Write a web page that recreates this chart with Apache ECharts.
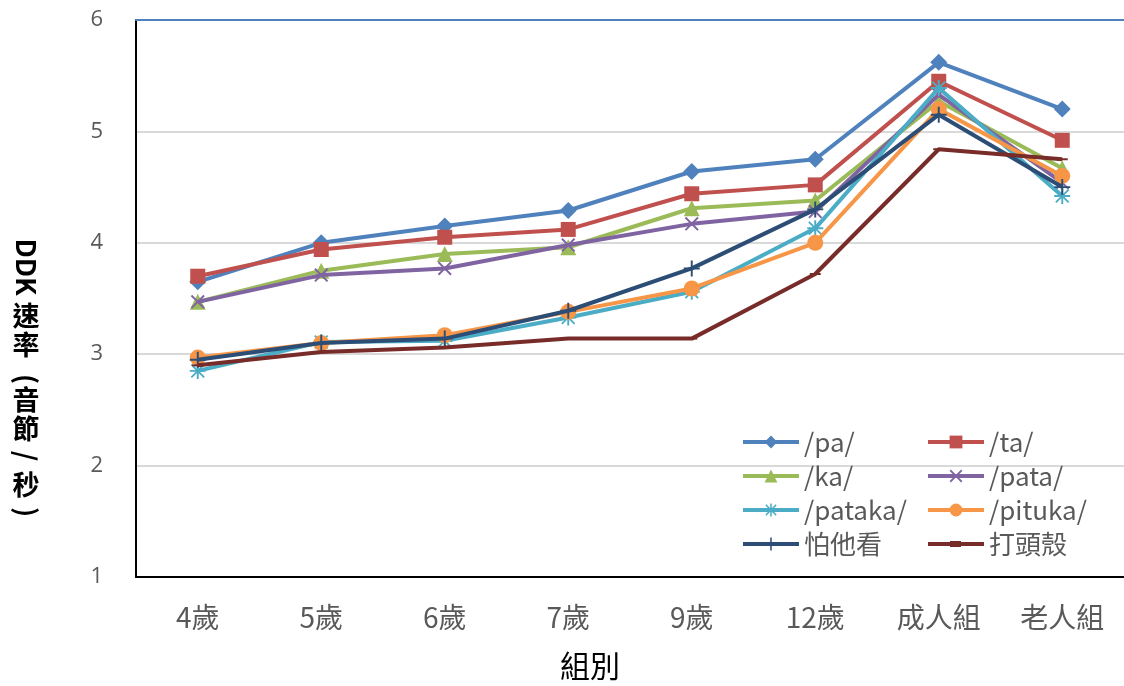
<!DOCTYPE html>
<html>
<head>
<meta charset="utf-8">
<script src="https://cdn.jsdelivr.net/npm/echarts@6/dist/echarts.min.js"></script>
<style>html,body{margin:0;padding:0;background:#fff}#c{width:1124px;height:686px}</style>
</head>
<body>
<div id="c"></div>
<script>
const categories = ['4歲','5歲','6歲','7歲','9歲','12歲','成人組','老人組'];
const seriesNames = ['/pa/','/ta/','/ka/','/pata/','/pataka/','/pituka/','怕他看','打頭殼'];
const pa      = [3.65, 4.00, 4.15, 4.29, 4.64, 4.75, 5.62, 5.20];
const ta      = [3.70, 3.94, 4.05, 4.12, 4.44, 4.52, 5.45, 4.92];
const ka      = [3.47, 3.75, 3.90, 3.96, 4.31, 4.38, 5.27, 4.67];
const pata    = [3.47, 3.71, 3.77, 3.98, 4.17, 4.28, 5.33, 4.54];
const pataka  = [2.85, 3.11, 3.12, 3.33, 3.56, 4.13, 5.39, 4.42];
const pituka  = [2.97, 3.10, 3.17, 3.38, 3.59, 4.00, 5.20, 4.60];
const patakan = [2.95, 3.10, 3.14, 3.39, 3.77, 4.30, 5.15, 4.50];
const datouke = [2.90, 3.02, 3.06, 3.14, 3.14, 3.72, 4.84, 4.75];
const yTicks = [1, 2, 3, 4, 5, 6];

const colors = ['#4F81BD','#C0504D','#9BBB59','#8064A2','#4BACC6','#F79646','#2C4D75','#772C2A'];
const X_PATH = 'path://M0,1 L1,0 L5,4 L9,0 L10,1 L6,5 L10,9 L9,10 L5,6 L1,10 L0,9 L4,5 Z';
const PLUS_PATH = 'path://M4.4,0 H5.6 V4.4 H10 V5.6 H5.6 V10 H4.4 V5.6 H0 V4.4 H4.4 Z';
const STAR_PATH = 'path://M4.4,0 H5.6 V4.4 H10 V5.6 H5.6 V10 H4.4 V5.6 H0 V4.4 H4.4 Z M0.6,1.4 L1.4,0.6 L5,4.2 L8.6,0.6 L9.4,1.4 L5.8,5 L9.4,8.6 L8.6,9.4 L5,5.8 L1.4,9.4 L0.6,8.6 L4.2,5 Z';
const DASH_PATH = 'path://M0,0 H10 V4 H0 Z';
const DASH_LEGEND = 'path://M0,1 H56 V5 H0 Z M22,0 H33 V6 H22 Z';
const symbols = ['diamond','rect','triangle',X_PATH,STAR_PATH,'circle',PLUS_PATH,DASH_PATH];
const sizes = [17,15,16,14,16,16,16,[11,5]];
const allData = [pa,ta,ka,pata,pataka,pituka,patakan,datouke];

const series = allData.map((d,i)=>({
  name: seriesNames[i],
  type: 'line',
  data: d,
  symbol: symbols[i],
  symbolSize: sizes[i],
  symbolKeepAspect: true,
  showAllSymbol: true,
  lineStyle: {color: colors[i], width: 4},
  itemStyle: {color: colors[i]},
  emphasis: {disabled: true},
  animation: false,
  z: 2 + i
}));

const yTitle = [
  ['DDK', 267, true],
  ['速', 316, false],
  ['率', 345, false],
  ['(', 379, true],
  ['音', 400, false],
  ['節', 429, false],
  ['/', 456, true],
  ['秒', 485, false],
  [')', 512, true]
];
const graphics = yTitle.map(([t,y,rot])=>({
  type: 'text',
  x: 26, y: y,
  rotation: rot ? -Math.PI/2 : 0,
  style: {text: t, font: 'bold 27px "Noto Sans CJK TC"', fill: '#000', textAlign: 'center', textVerticalAlign: 'middle'}
}));
graphics.push({
  type: 'text', x: 590, y: 666,
  style: {text: '組別', font: '30px "Noto Sans CJK TC"', fill: '#000', textAlign: 'center', textVerticalAlign: 'middle'}
});

const legendText = {color: '#595959', fontSize: 26, fontFamily: '"Noto Sans CJK TC", "Open Sans"', lineHeight: 26};
const legendCommon = {orient: 'vertical', top: 424, itemWidth: 56, itemHeight: 16, itemGap: 8,
  textStyle: legendText, selectedMode: false, lineStyle: {width: 4}};
const option = {
  backgroundColor: '#fff',
  animation: false,
  grid: {left: 136, right: 0, top: 20, bottom: 109},
  legend: [
    Object.assign({data: [seriesNames[0],seriesNames[2],seriesNames[4],seriesNames[6]], left: 736}, legendCommon),
    Object.assign({data: [seriesNames[1],seriesNames[3],seriesNames[5],{name: seriesNames[7], icon: DASH_LEGEND}], left: 921}, legendCommon)
  ],
  xAxis: [
    {type: 'category', data: categories, boundaryGap: true,
     axisLine: {lineStyle: {color: '#000', width: 2}},
     axisTick: {show: false},
     axisLabel: {color: '#595959', fontSize: 28, fontFamily: '"Noto Sans CJK TC"', margin: 26}},
    {type: 'category', data: categories, position: 'top',
     axisLine: {lineStyle: {color: '#4F81BD', width: 2}},
     axisTick: {show: false}, axisLabel: {show: false}}
  ],
  yAxis: {
    type: 'value', min: yTicks[0], max: yTicks[yTicks.length-1], interval: 1,
    axisLine: {show: true, lineStyle: {color: '#000', width: 2}},
    axisTick: {show: false},
    axisLabel: {color: '#595959', fontSize: 22, fontFamily: '"Open Sans"', margin: 33},
    splitLine: {lineStyle: {color: '#D9D9D9', width: 2}}
  },
  graphic: graphics,
  series: series
};
const chart = echarts.init(document.getElementById('c'), null, {renderer: 'canvas'});
chart.setOption(option);
</script>
</body>
</html>
